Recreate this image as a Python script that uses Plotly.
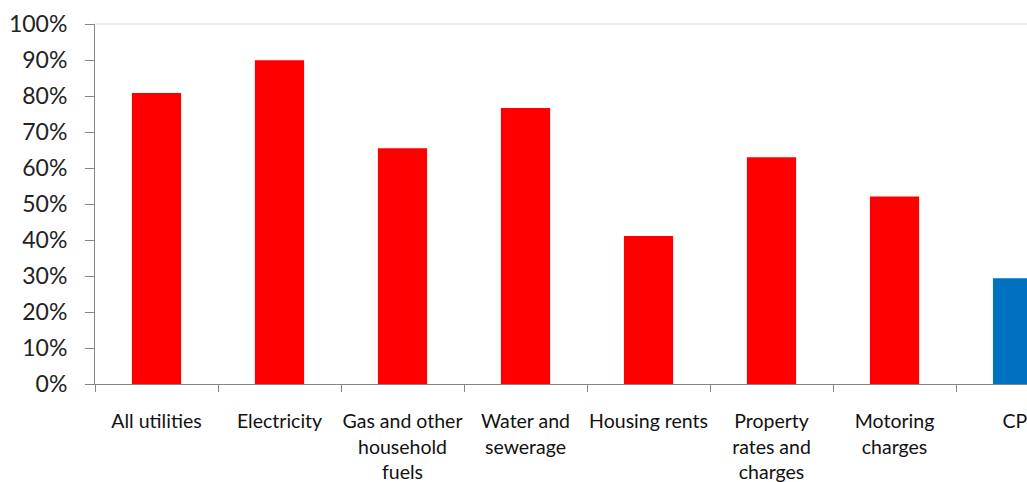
import plotly.graph_objects as go

categories = ["All utilities", "Electricity", "Gas and other<br>household<br>fuels",
              "Water and<br>sewerage", "Housing rents", "Property<br>rates and<br>charges",
              "Motoring<br>charges", "CPI"]
values = [0.808, 0.899, 0.655, 0.767, 0.411, 0.630, 0.521, 0.294]
colors = ["#FF0000"] * 7 + ["#0070C0"]

fig = go.Figure()
fig.add_trace(go.Bar(x=categories, y=values, marker=dict(color=colors, line=dict(width=0)),
                     width=0.4, showlegend=False))

axis_col = "#868686"
fig.update_layout(
    width=1027, height=482,
    margin=dict(l=95, r=0, t=24, b=98),
    paper_bgcolor="white", plot_bgcolor="white",
    font=dict(family="Lato, Carlito, sans-serif", color="#222222"),
    bargap=0.6,
    xaxis=dict(type="category", range=[-0.5, 7.077], showgrid=False,
               showline=True, linecolor=axis_col, linewidth=1, automargin=False,
               ticks="outside", tickson="boundaries", ticklen=7, tickcolor=axis_col,
               tickangle=0,
               tickfont=dict(size=19.5, color="#111111"), ticklabelstandoff=20,
               fixedrange=True),
    yaxis=dict(range=[0, 1], dtick=0.1, tickformat=".0%", showgrid=False,
               showline=True, linecolor=axis_col, linewidth=1, zeroline=False,
               automargin=False,
               ticks="outside", ticklen=9, tickcolor=axis_col,
               tickfont=dict(size=23, color="#222222"), ticklabelstandoff=13),
    shapes=[dict(type="line", xref="paper", yref="paper", x0=0, x1=1, y0=1, y1=1,
                 line=dict(color="#D9D9D9", width=1))],
)

fig.write_html("out.html", config={"displayModeBar": False},
               post_script="document.body.style.margin='0';document.body.style.overflow='hidden';")
